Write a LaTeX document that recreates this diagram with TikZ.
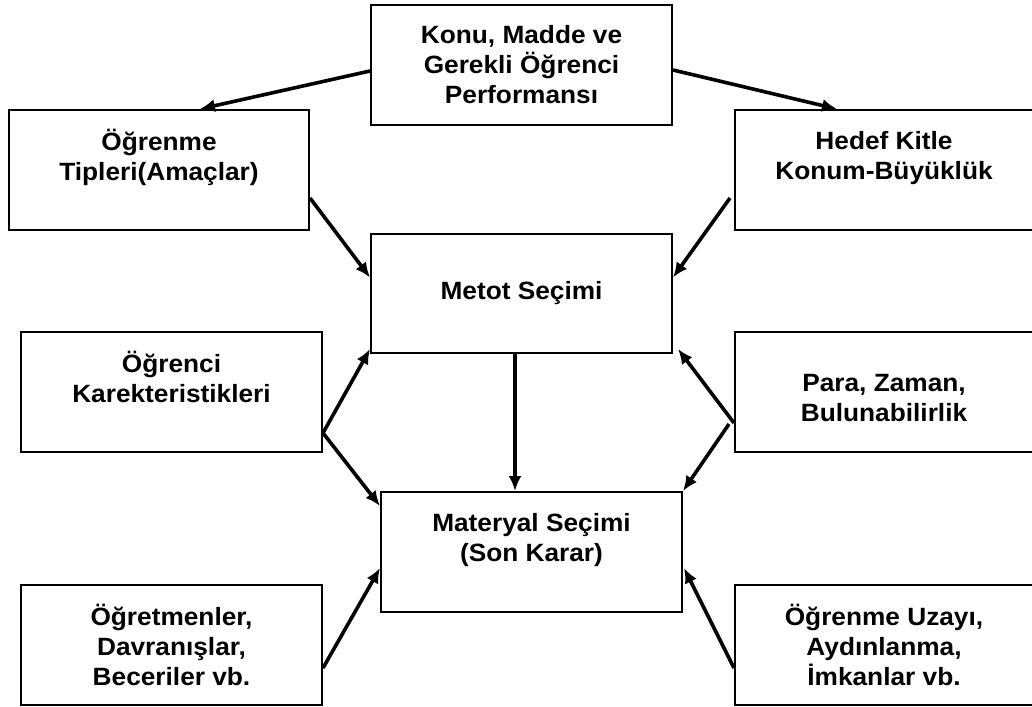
\documentclass[tikz,border=0pt]{standalone}
\usepackage{fontspec}
\setmainfont{Liberation Sans}[FakeStretch=1.05]
\usetikzlibrary{calc,arrows.meta}
\tikzset{>={Latex[length=15pt,width=13pt]}}
\tikzset{
  kutu/.style={draw=black, line width=2pt, inner sep=0pt, minimum width=301pt, minimum height=120pt,
               align=center, font=\fontsize{25}{30}\selectfont\bfseries},
  ok/.style={->, line width=3.6pt}
}

\begin{document}
\begin{tikzpicture}[x=1pt,y=-1pt]
            \useasboundingbox (0,0) rectangle (1032,706);

            \node[kutu] (konu) at (521.5,65) {Konu, Madde ve\\Gerekli Öğrenci\\Performansı};
            \node[kutu, minimum width=300pt] (tipler) at (159,170) {Öğrenme\\Tipleri(Amaçlar)\\\mbox{}};
            \node[kutu, minimum width=298pt] (hedef) at (884,170) {Hedef Kitle\\Konum-Büyüklük\\\mbox{}};
            \node[kutu, minimum height=119pt] (metot) at (521.5,293.5) {Metot Seçimi};
            \node[kutu] (ogrenci) at (171.5,392) {Öğrenci\\Karekteristikleri\\\mbox{}};
            \node[kutu, minimum width=298pt] (para) at (884,392) {\mbox{}\\Para, Zaman,\\Bulunabilirlik};
            \node[kutu] (materyal) at (531.5,552) {Materyal Seçimi\\(Son Karar)\\\mbox{}};
            \node[kutu] (ogretmen) at (171.5,645) {Öğretmenler,\\Davranışlar,\\Beceriler vb.};
            \node[kutu, minimum width=298pt] (uzay) at (884,645) {Öğrenme Uzayı,\\Aydınlanma,\\İmkanlar vb.};

            % ust kutudan yanlara
            \draw[ok] ($(konu.west)+(0,6)$) -- ($(tipler.north)+(41,0)$);
            \draw[ok] ($(konu.east)+(0,5)$) -- ($(hedef.north)+(-47,0)$);

            % metot secimine gelenler
            \draw[ok] ($(tipler.east)+(0,28)$) -- ($(metot.west)+(0,-16)$);
            \draw[ok] ($(hedef.west)+(-4,28)$) -- ($(metot.east)+(0,-16)$);
            \draw[ok] ($(ogrenci.east)+(0,41)$) -- ($(metot.south west)+(0,-5)$);
            \draw[ok] ($(para.west)+(0,31)$) -- ($(metot.south east)+(5,-5)$);

            % materyal secimine gelenler
            \draw[ok] ($(metot.south)+(-6.5,0)$) coordinate (m) -- (m |- materyal.north);
            \draw[ok] ($(ogrenci.east)+(0,41)$) -- ($(materyal.north west)+(0,15)$);
            \draw[ok] ($(para.west)+(-5,32)$) -- (materyal.north east);
            \draw[ok] ($(ogretmen.east)+(0,23)$) -- ($(materyal.west)+(0,16)$);
            \draw[ok] ($(uzay.west)+(0,23)$) -- ($(materyal.east)+(1,16)$);
\end{tikzpicture}
\end{document}
